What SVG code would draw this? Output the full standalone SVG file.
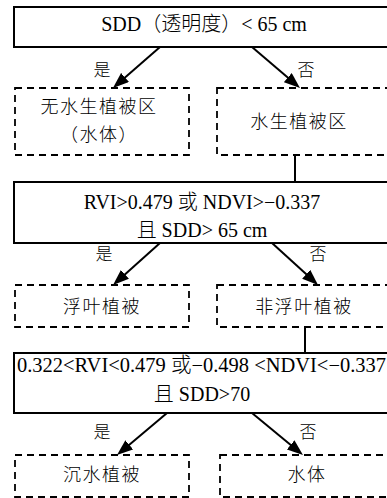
<svg xmlns="http://www.w3.org/2000/svg" width="387" height="498" viewBox="0 0 387 498">
<style>
.dec{fill:#fff;stroke:#000;stroke-width:2}
.leaf{fill:#fff;stroke:#000;stroke-width:1.8;stroke-dasharray:7 5}
.t{font-family:"Liberation Serif","Noto Sans CJK SC",serif;font-size:20px;font-weight:300;fill:#000;text-anchor:middle}
.c{font-family:"Noto Sans CJK SC",sans-serif;font-size:18px;font-weight:300;fill:#000;text-anchor:middle;letter-spacing:1.5px}
.y{font-family:"Noto Sans CJK SC",sans-serif;font-size:17px;font-weight:300;fill:#000;text-anchor:middle}
.ln{stroke:#000;stroke-width:2;fill:none}
.ar{stroke:#000;stroke-width:2;fill:none;marker-end:url(#ah)}
</style>
<defs>
<marker id="ah" viewBox="0 0 16 12" refX="8" refY="6" markerWidth="16" markerHeight="12" markerUnits="userSpaceOnUse" orient="auto">
<path d="M0,0 L16,6 L0,12 z" fill="#000"/>
</marker>
</defs>
<rect width="387" height="498" fill="#fff"/>
<g id="d1">
<rect class="dec" x="14" y="7" width="400" height="40"/>
<text class="t" x="204" y="31">SDD（透明度）&lt; 65 cm</text>
</g>
<g id="n1">
<rect class="leaf" x="15" y="88" width="174" height="67"/>
<text class="c" x="99" y="113">无水生植被区</text>
<text class="c" x="99" y="141">（水体）</text>
</g>
<g id="n2">
<rect class="leaf" x="217" y="88" width="200" height="67"/>
<text class="c" x="299" y="128">水生植被区</text>
</g>
<g id="d2">
<rect class="dec" x="14" y="182" width="400" height="61"/>
<text class="t" x="202" y="209">RVI&gt;0.479 或 NDVI&gt;−0.337</text>
<text class="t" x="202" y="237">且 SDD&gt; 65 cm</text>
</g>
<g id="n3">
<rect class="leaf" x="15" y="285" width="174" height="42"/>
<text class="c" x="102" y="313">浮叶植被</text>
</g>
<g id="n4">
<rect class="leaf" x="217" y="285" width="200" height="42"/>
<text class="c" x="304" y="313">非浮叶植被</text>
</g>
<g id="d3">
<rect class="dec" x="14" y="353" width="400" height="60"/>
<text class="t" x="17" y="372" style="text-anchor:start" textLength="369" lengthAdjust="spacingAndGlyphs">0.322&lt;RVI&lt;0.479 或−0.498 &lt;NDVI&lt;−0.337</text>
<text class="t" x="202" y="401">且 SDD&gt;70</text>
</g>
<g id="n5">
<rect class="leaf" x="15" y="455" width="174" height="42"/>
<text class="c" x="102" y="481">沉水植被</text>
</g>
<g id="n6">
<rect class="leaf" x="220" y="455" width="200" height="42"/>
<text class="c" x="307" y="481">水体</text>
</g>
<g id="connectors">
<line class="ar" x1="160" y1="47" x2="119" y2="82.7"/>
<line class="ar" x1="252" y1="47" x2="293.9" y2="82.8"/>
<line class="ln" x1="295" y1="155" x2="295" y2="182"/>
<line class="ar" x1="160" y1="243" x2="119" y2="279.7"/>
<line class="ar" x1="272" y1="243" x2="312.1" y2="279.6"/>
<line class="ln" x1="305" y1="327" x2="305" y2="353"/>
<line class="ar" x1="167" y1="413" x2="123.1" y2="449.9"/>
<line class="ar" x1="252" y1="413" x2="296.8" y2="449.9"/>
<text class="y" x="102" y="76">是</text>
<text class="y" x="306" y="76">否</text>
<text class="y" x="104" y="260">是</text>
<text class="y" x="318" y="260">否</text>
<text class="y" x="102" y="438">是</text>
<text class="y" x="308" y="438">否</text>
</g>
</svg>
